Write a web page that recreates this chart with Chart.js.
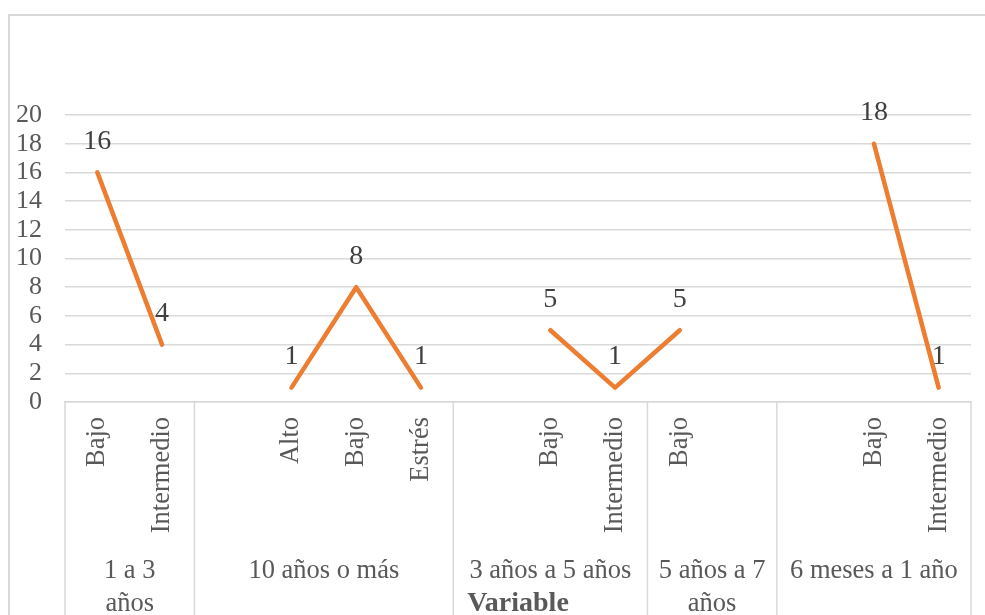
<!DOCTYPE html>
<html>
<head>
<meta charset="utf-8">
<title>Variable</title>
<script src="https://cdn.jsdelivr.net/npm/chart.js@4.4.1/dist/chart.umd.min.js"></script>
<style>
  html, body { margin: 0; padding: 0; background: #fff; }
  canvas { display: block; }
</style>
</head>
<body>
<canvas id="myChart" width="985" height="615"></canvas>
<script>
// categorias (nivel 1) y valores, null = sin dato
const niveles = ['Bajo', 'Intermedio', '', 'Alto', 'Bajo', 'Estrés', '', 'Bajo', 'Intermedio', 'Bajo', '', '', 'Bajo', 'Intermedio'];
const valores = [16, 4, null, 1, 8, 1, null, 5, 1, 5, null, null, 18, 1];

// grupos (nivel 2): texto por linea y cantidad de categorias
const grupos = [['1 a 3', 'años'], ['10 años o más'], ['3 años a 5 años'], ['5 años a 7', 'años'], ['6 meses a 1 año']];
const tamGrupos = [2, 4, 3, 2, 3];

const yTicks = [0, 2, 4, 6, 8, 10, 12, 14, 16, 18, 20];

const fuente = "'Liberation Serif', 'Times New Roman', serif";
const gris = '#595959';
const linea = '#d9d9d9';

const marcoExcel = {
    id: 'marcoExcel',
    beforeDraw(chart){
        let ctx = chart.ctx;
        ctx.save();
        ctx.strokeStyle = linea;
        ctx.lineWidth = 2;
        ctx.beginPath();
        ctx.moveTo(9, chart.height);
        ctx.lineTo(9, 15);
        ctx.lineTo(chart.width, 15);
        ctx.stroke();
        ctx.restore();
    },
    afterDraw(chart){
        let ctx = chart.ctx;
        let x = chart.scales.x;
        let area = chart.chartArea;
        ctx.save();
        ctx.strokeStyle = linea;
        ctx.lineWidth = 1.5;

        // limites de cada grupo
        let bordes = [x.left];
        let idx = 0;
        for(var i = 0; i < tamGrupos.length; i++){
            idx += tamGrupos[i];
            if(idx >= niveles.length){
                bordes.push(x.right);
            }else{
                bordes.push((x.getPixelForValue(idx - 1) + x.getPixelForValue(idx)) / 2);
            }
        }

        for(var i = 0; i < bordes.length; i++){
            ctx.beginPath();
            ctx.moveTo(bordes[i], area.bottom);
            ctx.lineTo(bordes[i], chart.height);
            ctx.stroke();
        }

        ctx.fillStyle = gris;
        ctx.font = '26.5px ' + fuente;
        ctx.textAlign = 'center';
        ctx.textBaseline = 'middle';
        for(var i = 0; i < grupos.length; i++){
            let cx = (bordes[i] + bordes[i + 1]) / 2;
            for(var j = 0; j < grupos[i].length; j++){
                ctx.fillText(grupos[i][j], cx, 571 + j * 33);
            }
        }
        ctx.restore();
    },
    afterDatasetsDraw(chart){
        let ctx = chart.ctx;
        let meta = chart.getDatasetMeta(0);
        ctx.save();
        ctx.fillStyle = '#404040';
        ctx.font = '28px ' + fuente;
        ctx.textAlign = 'center';
        ctx.textBaseline = 'middle';
        meta.data.forEach(function(p, i){
            if(valores[i] === null) return;
            ctx.fillText(String(valores[i]), p.x, p.y - 31);
        });
        ctx.restore();
    }
};

let ctx = document.getElementById('myChart');
let myChart = new Chart(ctx, {
    type: 'line',
    data: {
        labels: niveles,
        datasets: [{
            label: 'Total',
            data: valores,
            borderColor: '#ED7D31',
            backgroundColor: '#ED7D31',
            borderWidth: 4.5,
            borderCapStyle: 'round',
            borderJoinStyle: 'round',
            pointRadius: 0,
            spanGaps: false,
            tension: 0
        }]
    },
    options: {
        responsive: false,
        animation: false,
        devicePixelRatio: 1,
        layout: {
            padding: { top: 115, right: 14, bottom: 0, left: 0 }
        },
        plugins: {
            legend: { display: false },
            tooltip: { enabled: false }
        },
        scales: {
            x: {
                offset: true,
                grid: { display: false },
                border: { display: true, color: linea, width: 1.5 },
                ticks: {
                    autoSkip: false,
                    maxRotation: 90,
                    minRotation: 90,
                    padding: 7,
                    color: gris,
                    font: { family: fuente, size: 26.5 },
                    callback: function(v, i){ return niveles[i]; }
                },
                title: {
                    display: true,
                    text: 'Variable',
                    color: gris,
                    font: { family: fuente, size: 28, weight: 'bold' },
                    padding: { top: 0, bottom: -6 }
                },
                afterFit: function(s){ s.height = 213; }
            },
            y: {
                min: 0,
                max: 20,
                afterBuildTicks: function(s){ s.ticks = yTicks.map(function(v){ return { value: v }; }); },
                grid: { color: linea, lineWidth: 1.5, drawTicks: false },
                border: { display: false },
                ticks: {
                    autoSkip: false,
                    padding: 23,
                    color: gris,
                    font: { family: fuente, size: 26 }
                },
                afterFit: function(s){ s.width = 65; }
            }
        }
    },
    plugins: [marcoExcel]
});
</script>
</body>
</html>
